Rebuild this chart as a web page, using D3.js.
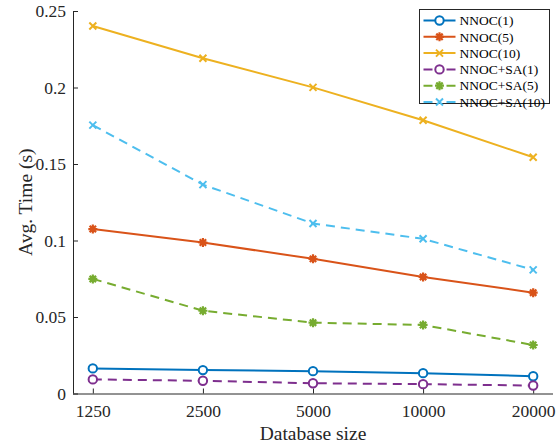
<!DOCTYPE html>
<html>
<head>
<meta charset="utf-8">
<script src="https://cdn.jsdelivr.net/npm/d3@7/dist/d3.min.js"></script>
<style>
  body { margin: 0; background: #fff; }
  text { font-family: "Liberation Serif", "DejaVu Serif", serif; fill: #262626; }
</style>
</head>
<body>
<div id="chart"></div>
<script>
// data
var sizes = ["1250", "2500", "5000", "10000", "20000"];
var yTicks = [0, 0.05, 0.1, 0.15, 0.2, 0.25];
var seriesNames = ["NNOC(1)", "NNOC(5)", "NNOC(10)", "NNOC+SA(1)", "NNOC+SA(5)", "NNOC+SA(10)"];
var nnoc1 = [0.0164, 0.0153, 0.0146, 0.0133, 0.0113];
var nnoc5 = [0.1075, 0.0987, 0.0880, 0.0762, 0.0659];
var nnoc10 = [0.2402, 0.2191, 0.2001, 0.1786, 0.1544];
var sa1 = [0.0092, 0.0083, 0.0067, 0.0061, 0.0052];
var sa5 = [0.0749, 0.0541, 0.0463, 0.0448, 0.0317];
var sa10 = [0.1754, 0.1365, 0.1111, 0.1011, 0.0808];

var series = [
    { name: seriesNames[0], values: nnoc1, color: "#0072BD", marker: "circle", dash: null },
    { name: seriesNames[1], values: nnoc5, color: "#D95319", marker: "star", dash: null },
    { name: seriesNames[2], values: nnoc10, color: "#EDB120", marker: "x", dash: null },
    { name: seriesNames[3], values: sa1, color: "#7E2F8E", marker: "circle", dash: "9,6" },
    { name: seriesNames[4], values: sa5, color: "#77AC30", marker: "star", dash: "9,6" },
    { name: seriesNames[5], values: sa10, color: "#4DBEEE", marker: "x", dash: "9,6" }
];

var W = 557, H = 448;
var pLeft = 73, pRight = 553, pTop = 11, pBottom = 393.5;

var svg = d3.select("#chart").append("svg")
    .attr("width", W)
    .attr("height", H);

var x = d3.scalePoint()
    .domain(sizes)
    .range([pLeft, pRight])
    .padding(0.18);

var y = d3.scaleLinear()
    .domain([0, 0.25])
    .range([pBottom, pTop]);

// axes, ticks pointing inward like matlab
var xAxis = svg.append("g")
    .attr("transform", "translate(0," + pBottom + ")")
    .call(d3.axisBottom(x).tickSize(-5).tickPadding(11));
var yAxis = svg.append("g")
    .attr("transform", "translate(" + pLeft + ",0)")
    .call(d3.axisLeft(y).tickValues(yTicks).tickSize(-5).tickPadding(7)
        .tickFormat(function(d) { return String(+d.toFixed(2)); }));

[xAxis, yAxis].forEach(function(a) {
    a.select(".domain").attr("stroke", "#262626").attr("stroke-width", 1);
    a.selectAll(".tick line").attr("stroke", "#262626");
    a.selectAll(".tick text")
        .style("font-family", "Liberation Serif")
        .style("font-size", "17.5px")
        .attr("fill", "#262626");
});
// drop the end caps of the domain path
xAxis.select(".domain").attr("d", "M" + pLeft + ",0.5H" + pRight);
yAxis.select(".domain").attr("d", "M0.5," + pBottom + "V" + pTop);

// axis titles
svg.append("text")
    .attr("x", (pLeft + pRight) / 2)
    .attr("y", 440)
    .attr("text-anchor", "middle")
    .style("font-size", "19.5px")
    .text("Database size");

svg.append("text")
    .attr("text-anchor", "middle")
    .attr("transform", "translate(32," + ((pTop + pBottom) / 2) + ") rotate(-90)")
    .style("font-size", "19.5px")
    .text("Avg. Time (s)");

var line = d3.line()
    .x(function(d, i) { return x(sizes[i]); })
    .y(function(d) { return y(d); });

function drawMarker(g, type, color) {
    if (type == "circle") {
        g.append("circle").attr("r", 4.2)
            .attr("fill", "white").attr("stroke", color).attr("stroke-width", 2);
    } else if (type == "x") {
        g.append("path").attr("d", "M-3.5,-3.5L3.5,3.5M-3.5,3.5L3.5,-3.5")
            .attr("stroke", color).attr("stroke-width", 2).attr("fill", "none");
    } else {
        // matlab '*' with a thick linewidth looks like a blob
        g.append("path").attr("d", "M0,-4.5V4.5M-4.5,0H4.5M-3.2,-3.2L3.2,3.2M-3.2,3.2L3.2,-3.2")
            .attr("stroke", color).attr("stroke-width", 2.2).attr("fill", "none");
        g.append("circle").attr("r", 2.6).attr("fill", color);
    }
}

var plot = svg.append("g").attr("class", "g_data");

series.forEach(function(s) {
    plot.append("path")
        .datum(s.values)
        .attr("d", line)
        .attr("fill", "none")
        .attr("stroke", s.color)
        .attr("stroke-width", 2)
        .attr("stroke-dasharray", s.dash);

    plot.selectAll(null)
        .data(s.values)
        .enter()
        .append("g")
        .attr("transform", function(d, i) {
            return "translate(" + x(sizes[i]) + "," + y(d) + ")";
        })
        .each(function() { drawMarker(d3.select(this), s.marker, s.color); });
});

// legend
var legX = 419.5, legY = 9.5, legW = 130, legH = 94;
var legend = svg.append("g");
legend.append("rect")
    .attr("x", legX).attr("y", legY)
    .attr("width", legW).attr("height", legH)
    .attr("fill", "white")
    .attr("stroke", "#262626")
    .attr("stroke-width", 1);

var rowH = 16.3;
var items = legend.selectAll("g.item")
    .data(series)
    .enter()
    .append("g")
    .attr("class", "item")
    .attr("transform", function(d, i) {
        return "translate(" + legX + "," + (legY + 11 + i * rowH) + ")";
    });

items.append("line")
    .attr("x1", 4).attr("x2", 36)
    .attr("y1", 0).attr("y2", 0)
    .attr("stroke", function(d) { return d.color; })
    .attr("stroke-width", 2)
    .attr("stroke-dasharray", function(d) { return d.dash ? "9,14" : null; });

items.append("g")
    .attr("transform", "translate(20,0)")
    .each(function(d) { drawMarker(d3.select(this), d.marker, d.color); });

items.append("text")
    .attr("x", 40)
    .attr("y", 0)
    .attr("dy", "0.35em")
    .style("font-size", "13.5px")
    .style("fill", "#000")
    .text(function(d) { return d.name; });
</script>
</body>
</html>
